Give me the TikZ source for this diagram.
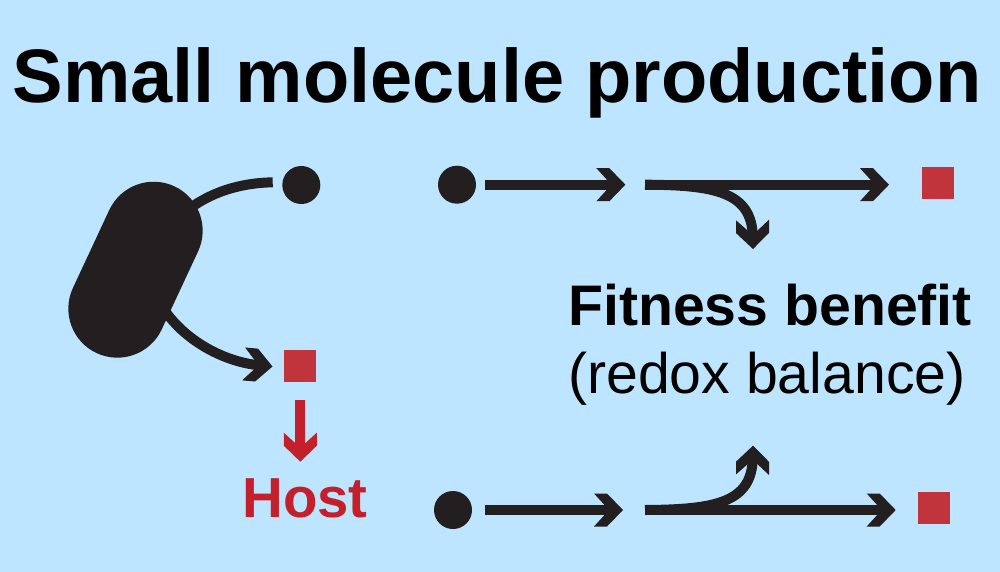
\documentclass[tikz,border=0pt]{standalone}
\usepackage{fontspec}
\setmainfont{Liberation Sans}
\usetikzlibrary{arrows.meta,shapes.misc}
\definecolor{skyback}{HTML}{BDE5FF}
\definecolor{inkblack}{HTML}{231F20}
\definecolor{molred}{HTML}{C1343C}
\definecolor{hostred}{HTML}{C4202B}
% Flat-cut chevron head shared by every arrow
\pgfdeclarearrow{
  name=Chevron,
  setup code={
    \pgfarrowssettipend{0pt}
    \pgfarrowssetlineend{-12pt}
    \pgfarrowssetbackend{-29pt}
    \pgfarrowssetvisualbackend{-14pt}
  },
  drawing code={
    \pgfpathmoveto{\pgfqpoint{0pt}{0pt}}
    \pgfpathlineto{\pgfqpoint{-16pt}{16.5pt}}
    \pgfpathlineto{\pgfqpoint{-29pt}{16.5pt}}
    \pgfpathlineto{\pgfqpoint{-14pt}{0pt}}
    \pgfpathlineto{\pgfqpoint{-29pt}{-16.5pt}}
    \pgfpathlineto{\pgfqpoint{-16pt}{-16.5pt}}
    \pgfpathclose
    \pgfusepathqfill
  }
}
\tikzset{
  flow/.style={draw=inkblack,line width=10pt,-{Chevron}},
  plainflow/.style={draw=inkblack,line width=10pt},
  hostflow/.style={draw=hostred,line width=10pt,-{Chevron}},
  substrate/.style={circle,fill=inkblack,inner sep=0pt,minimum size=38pt},
  product/.style={rectangle,fill=molred,inner sep=0pt,minimum width=32pt,minimum height=32pt},
  cellbody/.style={rounded rectangle,fill=inkblack,inner sep=0pt,minimum width=184pt,minimum height=98pt},
  headline/.style={font=\fontsize{75.8}{78}\selectfont\bfseries,text=black,inner sep=0pt,anchor=base},
  benefit/.style={font=\fontsize{57.2}{57}\selectfont,text=black,inner sep=0pt,anchor=base west},
}
\begin{document}
\begin{tikzpicture}[x=1pt,y=-1pt]
  \useasboundingbox (0,0) rectangle (1000,572);
  \fill[skyback] (0,0) rectangle (1000,572);

  \node[headline] (title) at (497,103) {Small molecule production};

  % Cell with uptake and secretion
  \node[cellbody,rotate=65] (cell) at (135.5,269.7) {};
  \coordinate (cellin) at (185,212);
  \coordinate (cellout) at (160,303);
  \coordinate (uptakeend) at (272.7,182.3);
  \coordinate (secretetip) at (272.5,366.5);
  \node[substrate] (leftsub) at (301.3,185) {};
  \node[product] (leftprod) at (300.2,366) {};
  \draw[plainflow] (uptakeend) .. controls (240,183) and (210,192) .. (cellin);
  \draw[flow] (cellout) .. controls (180,338) and (222,362) .. (secretetip);

  % Export to the host
  \coordinate (hosttop) at (300.3,400);
  \coordinate (hosttip) at (300.3,461.7);
  \draw[hostflow] (hosttop) -- (hosttip);
  \node[font=\fontsize{56.4}{56}\selectfont\bfseries,text=hostred,inner sep=0pt,anchor=base] (host) at (305,517) {Host};

  % Upper pathway
  \node[substrate] (topsub) at (457,184.7) {};
  \coordinate (topa) at (485.4,184.7);
  \coordinate (topb) at (625.4,184.7);
  \coordinate (topc) at (645,184.7);
  \coordinate (topd) at (889,184.7);
  \coordinate (topbranch) at (753,249);
  \node[product] (topprod) at (937.8,182.7) {};
  \draw[flow] (topa) -- (topb);
  \draw[flow] (topc) -- (topd);
  \draw[flow] (topc) .. controls (715,185) and (752,192) .. (topbranch);

  % Fitness label
  \node[benefit,font=\fontsize{57.2}{57}\selectfont\bfseries] (fit) at (568,325) {Fitness benefit};
  \node[benefit] (redox) at (568,393) {(redox balance)};

  % Lower pathway
  \node[substrate] (botsub) at (453,510) {};
  \coordinate (bota) at (485.4,510);
  \coordinate (botb) at (623,510);
  \coordinate (botc) at (645,510);
  \coordinate (botd) at (895.7,510);
  \coordinate (botbranch) at (753,445.7);
  \node[product] (botprod) at (933.5,507.7) {};
  \draw[flow] (bota) -- (botb);
  \draw[flow] (botc) -- (botd);
  \draw[flow] (botc) .. controls (715,509.5) and (752,503) .. (botbranch);
\end{tikzpicture}
\end{document}
